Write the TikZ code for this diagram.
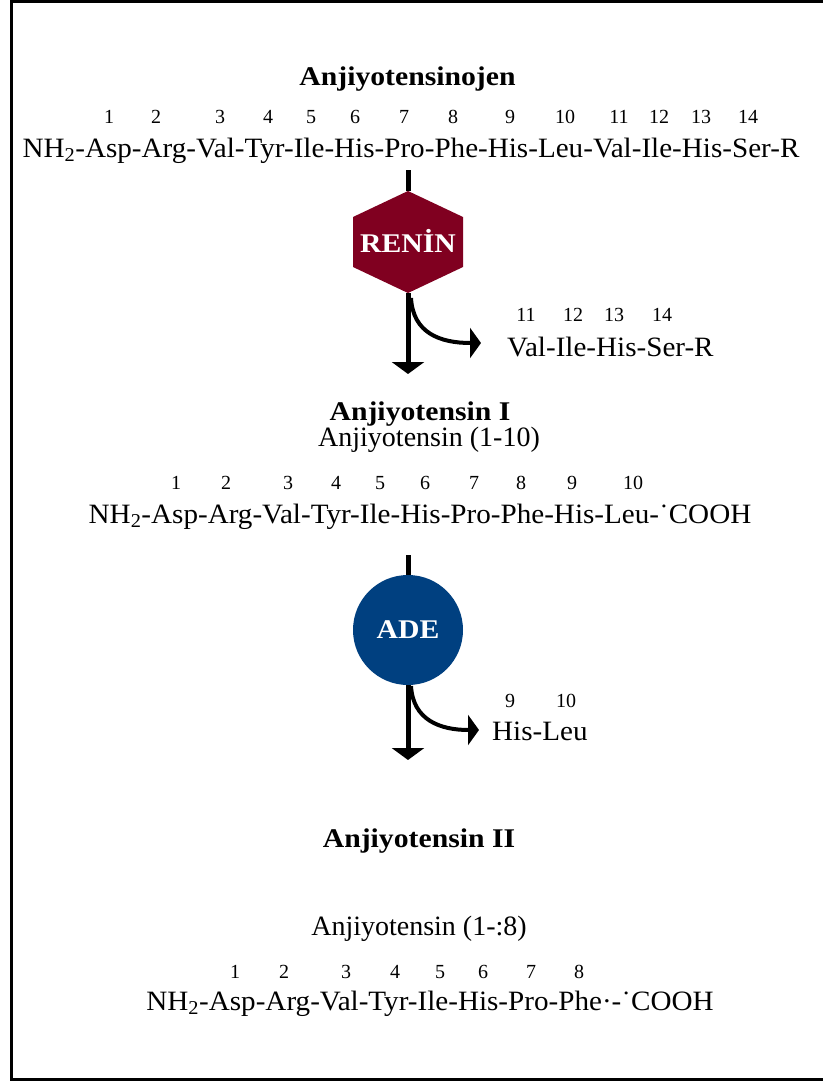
\documentclass[tikz,border=0pt]{standalone}
\usepackage{graphicx}
\usepackage{fontspec}
\setmainfont{Liberation Serif}
\usetikzlibrary{arrows.meta}
\definecolor{reninred}{RGB}{128,0,32}
\definecolor{adeblue}{RGB}{0,64,128}
\newcommand{\myfs}[1]{\fontsize{#1}{#1}\selectfont}
\newcommand{\sx}[2]{\scalebox{#1}[1]{#2}}
\begin{document}
\begin{tikzpicture}[x=1pt,y=-1pt,
  seq/.style={anchor=base, inner sep=0pt, font=\myfs{28}},
  num/.style={anchor=base, inner sep=0pt, font=\myfs{20}},
  ttl/.style={anchor=base, inner sep=0pt, font=\myfs{27}\bfseries},
  subt/.style={anchor=base, inner sep=0pt, font=\myfs{28}},
  enz/.style={inner sep=0pt, text=white, font=\myfs{27}\bfseries},
  mainline/.style={line width=5pt, -{Triangle[width=32pt,length=12pt]}},
  sideline/.style={line width=4pt, -{Triangle[width=30pt,length=11pt]}},
  stub/.style={line width=5pt}]
\useasboundingbox (0,0) rectangle (822,1081);
\fill[white] (0,0) rectangle (822,1081);
\draw[line width=3pt] (830,1.5) -- (11.5,1.5) -- (11.5,1079.5) -- (830,1079.5);

% Angiotensinogen
\node[ttl] (t1) at (407.5,85) {\sx{1.1}{Anjiyotensinojen}};
\foreach \n/\x in {1/109,2/156,3/220,4/268,5/311,6/355,7/404,8/453,9/510,10/565,11/619,12/659,13/701,14/748}
  \node[num] (a\n) at (\x,123) {\n};
\node[seq] (s1) at (411,157) {\sx{1.04}{NH\textsubscript{2}-Asp-Arg-Val-Tyr-Ile-His-Pro-Phe-His-Leu-Val-Ile-His-Ser-R}};

% Renin
\coordinate (c1) at (408,170);
\coordinate (rtop) at (408,191);
\coordinate (rbot) at (408,293);
\fill[reninred] (408,191) -- (463,217) -- (463,267) -- (408,293) -- (353,267) -- (353,217) -- cycle;
\node[enz] (renin) at (408,241) {\sx{1.1}{RENİN}};
\draw[stub] (c1) -- (rtop);
\coordinate (e1) at (408,374);
\draw[mainline] (rbot) -- (e1);
\coordinate (f1s) at (411,298);
\coordinate (f1e) at (481,343);
\draw[sideline] (f1s) .. controls (413,333) and (440,343) .. (f1e);
\foreach \n/\x in {11/526,12/573,13/614,14/662}
  \node[num] (b\n) at (\x,321) {\n};
\node[seq, anchor=base west] (frag1) at (507,356) {\sx{1.04}{Val-Ile-His-Ser-R}};

% Angiotensin I
\node[ttl] (t2) at (420,420) {\sx{1.1}{Anjiyotensin I}};
\node[subt] (u2) at (429,446) {Anjiyotensin (1-10)};
\foreach \n/\x in {1/176,2/226,3/288,4/336,5/380,6/425,7/474,8/521,9/572,10/633}
  \node[num] (c\n) at (\x,489) {\n};
\node[seq] (s2) at (420,523) {\sx{1.04}{NH\textsubscript{2}-Asp-Arg-Val-Tyr-Ile-His-Pro-Phe-His-Leu-˙COOH}};

% ADE
\coordinate (c2) at (408,555);
\node[circle, fill=adeblue, minimum size=110pt, enz] (ade) at (408,630) {\sx{1.1}{ADE}};
\draw[stub] (c2) -- (ade.north);
\coordinate (e2) at (408,760);
\draw[mainline] (ade.south) -- (e2);
\coordinate (f2s) at (411,686);
\coordinate (f2e) at (479,730);
\draw[sideline] (f2s) .. controls (413,720) and (440,730) .. (f2e);
\node[num] (d9) at (510,707) {9};
\node[num] (d10) at (566,707) {10};
\node[seq, anchor=base west] (frag2) at (492,740) {\sx{1.04}{His-Leu}};

% Angiotensin II
\node[ttl] (t3) at (419,847) {\sx{1.1}{Anjiyotensin II}};
\node[subt] (u3) at (419,935) {Anjiyotensin (1-:8)};
\foreach \n/\x in {1/235,2/284,3/346,4/395,5/440,6/483,7/531,8/579}
  \node[num] (g\n) at (\x,978) {\n};
\node[seq] (s3) at (430,1010) {\sx{1.04}{NH\textsubscript{2}-Asp-Arg-Val-Tyr-Ile-His-Pro-Phe·-˙COOH}};
\end{tikzpicture}
\end{document}
